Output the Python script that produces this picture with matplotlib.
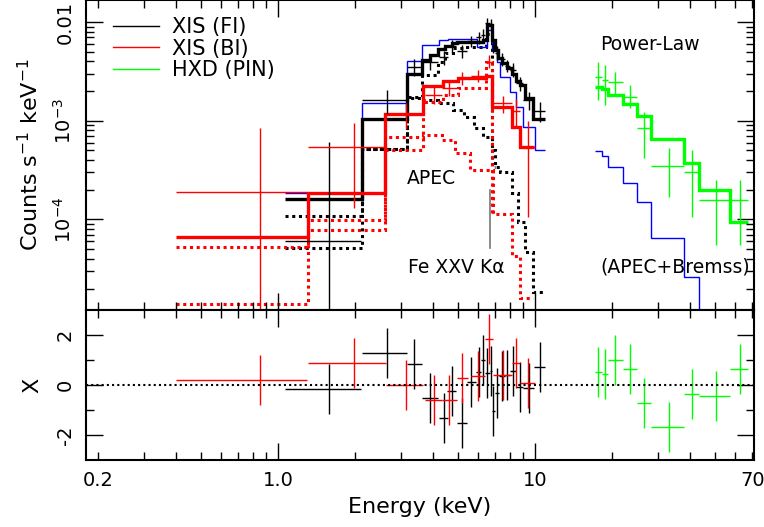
import numpy as np
import matplotlib.pyplot as plt
from matplotlib.lines import Line2D
from matplotlib.ticker import FixedLocator, FixedFormatter

# ---- model curves: bin edges (keV) and values (counts/s/keV) ----
fi_edges = [1.06, 2.12, 3.17, 3.62, 3.90, 4.18, 4.45, 4.74, 4.96, 6.27, 6.48, 6.78,
            6.98, 7.19, 7.42, 7.77, 8.14, 8.40, 8.74, 9.14, 9.86, 10.94]
fi_model = [1.61e-4, 1.04e-3, 2.98e-3, 4.14e-3, 4.65e-3, 5.3e-3, 5.76e-3, 6.1e-3,
            6.3e-3, 6.5e-3, 9.35e-3, 6.6e-3, 5.2e-3, 4.3e-3, 3.8e-3, 3.4e-3, 3.0e-3,
            2.5e-3, 2.3e-3, 1.68e-3, 1.04e-3]

bi_edges = [0.40, 1.31, 2.61, 3.68, 4.39, 5.02, 6.45, 6.80, 8.14, 8.74, 9.9]
bi_model = [6.7e-5, 1.87e-4, 1.17e-3, 2.25e-3, 2.55e-3, 2.7e-3, 2.85e-3, 1.39e-3,
            8.6e-4, 5.4e-4]

blue_edges = [1.06, 2.12, 3.17, 3.62, 4.23, 4.58, 5.92, 6.49, 6.77, 7.1, 7.31, 8.0,
              8.4, 8.99, 10.0, 10.94]
blue_vals = [1.87e-4, 1.52e-3, 4.03e-3, 5.82e-3, 6.5e-3, 6.8e-3, 5.6e-3, 8.3e-3,
             5.2e-3, 3.98e-3, 2.8e-3, 1.97e-3, 1.39e-3, 8.7e-4, 5.0e-4]

blue_hxd_edges = [17.1, 18.2, 19.2, 21.9, 25.0, 28.3, 38.1, 43.6, 50.0]
blue_hxd_vals = [4.95e-4, 4.4e-4, 3.42e-4, 2.33e-4, 1.5e-4, 6.5e-5, 2.6e-5, 1e-7]

pin_edges = [17.1, 18.2, 19.2, 21.9, 25.0, 28.3, 38.1, 43.6, 57.4, 67.6]
pin_model = [2.22e-3, 2.1e-3, 1.83e-3, 1.49e-3, 1.12e-3, 6.6e-4, 3.77e-4, 1.99e-4, 9.4e-5]

# dotted model components
fi_c1_edges = [1.06, 2.12, 3.17, 3.62, 4.20, 4.45, 4.80, 5.30, 6.45, 6.80, 6.98]
fi_c1 = [1.09e-4, 5.2e-4, 1.75e-3, 2.93e-3, 3.97e-3, 4.8e-3, 5.4e-3, 5.6e-3, 7.5e-3, 3.4e-4]
fi_c2_edges = [1.06, 2.12, 3.17, 3.62, 4.20, 4.80, 5.30, 5.80, 6.30, 6.80, 6.98, 7.30,
               8.14, 8.60, 9.14, 9.86, 10.94]
fi_c2 = [5.1e-5, 5.2e-4, 1.7e-3, 1.62e-3, 1.5e-3, 1.29e-3, 1.1e-3, 8.4e-4, 6.9e-4,
         5.0e-4, 3.4e-4, 3.0e-4, 1.86e-4, 9.5e-5, 4.7e-5, 1.85e-5]
bi_c1_edges = [0.40, 1.31, 2.61, 3.68, 4.33, 4.88, 5.59, 6.88, 8.14, 8.74, 9.86]
bi_c1 = [5.3e-5, 9.8e-5, 6.9e-4, 7.2e-4, 6.4e-4, 4.7e-4, 3.2e-4, 1.15e-4, 4.3e-5, 1.59e-5]
bi_c2_edges = [0.40, 1.31, 2.61, 3.68, 4.39, 5.02, 6.45, 6.80, 6.88]
bi_c2 = [1.39e-5, 7.9e-5, 5.06e-4, 1.56e-3, 1.83e-3, 2.14e-3, 3.97e-3, 1.15e-4]

# ---- data points ----
fi_lo = [1.06, 2.12, 3.17, 3.62, 4.24, 4.55, 4.95, 5.42, 5.89, 6.17, 6.40, 6.65, 6.77,
         6.98, 7.24, 7.62, 8.0, 8.4, 9.0, 9.9]
fi_hi = [2.10, 3.17, 3.62, 4.20, 4.59, 4.93, 5.42, 5.89, 6.17, 6.40, 6.65, 6.77, 6.98,
         7.24, 7.62, 8.0, 8.4, 9.0, 9.9, 10.96]
fi_rate = [6.1e-5, 1.62e-3, 3.54e-3, 3.95e-3, 4.4e-3, 5.75e-3, 5.1e-3, 6.4e-3, 7.0e-3,
           7.4e-3, 9.8e-3, 9.5e-3, 5.7e-3, 4.9e-3, 4.2e-3, 3.6e-3, 3.3e-3, 2.4e-3,
           1.62e-3, 1.26e-3]
fi_up = [6.14e-4, 2.07e-3, 4.2e-3, 4.65e-3, 5.1e-3, 6.5e-3, 5.9e-3, 7.2e-3, 8.0e-3,
         8.5e-3, 1.1e-2, 1.07e-2, 6.6e-3, 5.7e-3, 4.8e-3, 4.1e-3, 3.8e-3, 2.8e-3,
         1.97e-3, 1.56e-3]
fi_down = [1e-6, 1.17e-3, 2.87e-3, 3.25e-3, 3.7e-3, 5.0e-3, 4.3e-3, 5.6e-3, 6.0e-3,
           6.3e-3, 8.6e-3, 8.3e-3, 4.8e-3, 4.1e-3, 3.6e-3, 3.1e-3, 2.8e-3, 2.0e-3,
           1.27e-3, 0.96e-3]
fi_chi = [-0.17, 1.29, 0.84, -0.53, -1.33, -0.23, -1.51, 0.11, 0.51, 1.0, 0.47, 0.56,
          -1.03, -0.33, 0.36, 0.4, 0.57, -0.09, -0.1, 0.73]

bi_lo = [0.40, 1.31, 2.63, 3.73, 4.33, 4.97, 5.61, 6.40, 6.88, 8.14, 8.74]
bi_hi = [1.30, 2.63, 3.68, 4.33, 4.96, 5.47, 6.40, 6.87, 8.14, 8.74, 10.0]
bi_rate = [1.9e-4, 5.39e-4, 1.17e-3, 1.83e-3, 2.14e-3, 2.7e-3, 2.85e-3, 3.98e-3,
           1.5e-3, 1.25e-3, 5.46e-4]
bi_up = [8.5e-4, 9.44e-4, 1.52e-3, 2.18e-3, 2.5e-3, 3.1e-3, 3.25e-3, 4.6e-3, 1.8e-3,
         1.65e-3, 1.0e-3]
bi_down = [1e-6, 1.30e-4, 0.82e-3, 1.48e-3, 1.8e-3, 2.3e-3, 2.45e-3, 3.4e-3, 1.2e-3,
           0.85e-3, 1.07e-4]
bi_chi = [0.2, 0.89, 0.0, -0.6, -0.6, 0.29, 0.37, 1.83, 0.4, 0.89, 0.07]

pin_lo = [17.1, 18.2, 19.2, 21.9, 25.0, 28.3, 38.1, 43.6, 57.4]
pin_hi = [18.2, 19.2, 21.9, 25.0, 28.3, 38.1, 43.6, 57.4, 67.6]
pin_rate = [2.80e-3, 2.59e-3, 2.49e-3, 1.75e-3, 8.4e-4, 3.51e-4, 3.05e-4, 1.58e-4, 1.58e-4]
pin_up = [3.97e-3, 3.67e-3, 3.14e-3, 2.31e-3, 1.24e-3, 5.26e-4, 5.06e-4, 2.51e-4, 2.51e-4]
pin_down = [1.62e-3, 1.45e-3, 1.83e-3, 1.34e-3, 4.17e-4, 1.70e-4, 1.07e-4, 5.52e-5, 5.52e-5]
pin_chi = [0.51, 0.44, 1.0, 0.64, -0.72, -1.67, -0.37, -0.44, 0.64]

fe_line_E = 6.65
fe_line_range = [5.1e-5, 1.99e-4]

GREEN = '#00ff00'

fig = plt.figure(figsize=(7.64, 5.27), dpi=100)
ax = fig.add_axes([86/764, (527-310)/527, (754-86)/764, 310/527])
ax2 = fig.add_axes([86/764, (527-460)/527, (754-86)/764, 150/527])


def draw_points(a, lo, hi, y, ydown, yup, color):
    lo = np.array(lo); hi = np.array(hi); y = np.array(y)
    xc = (lo + hi) / 2
    a.errorbar(xc, y, xerr=[xc - lo, hi - xc],
               yerr=[y - np.array(ydown), np.array(yup) - y],
               fmt='none', ecolor=color, elinewidth=1.0, capsize=0)


# models
ax.stairs(fi_c1, fi_c1_edges, baseline=None, color='black', lw=2.2, ls=(0, (1, 1.2)))
ax.stairs(fi_c2, fi_c2_edges, baseline=None, color='black', lw=2.2, ls=(0, (1, 1.2)))
ax.stairs(bi_c1, bi_c1_edges, baseline=None, color='red', lw=2.2, ls=(0, (1, 1.2)))
ax.stairs(bi_c2, bi_c2_edges, baseline=None, color='red', lw=2.2, ls=(0, (1, 1.2)))
ax.stairs(blue_vals, blue_edges, baseline=None, color='blue', lw=1.0)
ax.stairs(blue_hxd_vals, blue_hxd_edges, baseline=None, color='blue', lw=1.0)
ax.stairs(fi_model, fi_edges, baseline=None, color='black', lw=2.4)
ax.stairs(bi_model, bi_edges, baseline=None, color='red', lw=2.4)
ax.stairs(pin_model, pin_edges, baseline=None, color=GREEN, lw=2.4)

# data
draw_points(ax, fi_lo, fi_hi, fi_rate, fi_down, fi_up, 'black')
draw_points(ax, bi_lo, bi_hi, bi_rate, bi_down, bi_up, 'red')
draw_points(ax, pin_lo, pin_hi, pin_rate, pin_down, pin_up, GREEN)

ax.plot([fe_line_E, fe_line_E], fe_line_range, color='#777777', lw=1.2)

ax.text(3.18, 2.63e-4, 'APEC', fontsize=13.5, ha='left', va='center')
ax.text(3.2, 3.3e-5, 'Fe XXV K\u03b1', fontsize=13.5, ha='left', va='center')
ax.text(17.9, 5.85e-3, 'Power-Law', fontsize=13.5, ha='left', va='center')
ax.text(17.9, 3.3e-5, '(APEC+Bremss)', fontsize=13.5, ha='left', va='center')

handles = [Line2D([], [], color='black', lw=1.0),
           Line2D([], [], color='red', lw=1.0),
           Line2D([], [], color=GREEN, lw=1.0)]
ax.legend(handles, ['XIS (FI)', 'XIS (BI)', 'HXD (PIN)'], loc='upper left',
          bbox_to_anchor=(27/668, 1 - 17/310), frameon=False, fontsize=15,
          handlelength=2.2, handletextpad=0.65, labelspacing=0.08,
          borderpad=0, borderaxespad=0)

# residuals
def draw_resid(a, lo, hi, chi, color):
    lo = np.array(lo); hi = np.array(hi)
    xc = (lo + hi) / 2
    a.errorbar(xc, chi, xerr=[xc - lo, hi - xc], yerr=1.0, fmt='none',
               ecolor=color, elinewidth=1.0, capsize=0)


draw_resid(ax2, fi_lo, fi_hi, fi_chi, 'black')
draw_resid(ax2, bi_lo, bi_hi, bi_chi, 'red')
draw_resid(ax2, pin_lo, pin_hi, pin_chi, GREEN)
ax2.axhline(0, color='black', lw=1.5, ls=(0, (1, 1.5)))

# axes setup
for a in (ax, ax2):
    a.set_xscale('log')
    a.set_xlim(0.179, 71.1)
    a.tick_params(which='both', direction='in', top=True, right=True, width=1.0)
    a.tick_params(which='major', length=12)
    a.tick_params(which='minor', length=6)
    for s in a.spines.values():
        s.set_linewidth(1.5)
    a.xaxis.set_major_locator(FixedLocator([1, 10]))
    minors = [0.2, 0.3, 0.4, 0.5, 0.6, 0.7, 0.8, 0.9, 2, 3, 4, 5, 6, 7, 8, 9,
              20, 30, 40, 50, 60, 70]
    a.xaxis.set_minor_locator(FixedLocator(minors))

ax.set_yscale('log')
ax.set_ylim(1.212e-5, 0.0167)
ax.yaxis.set_major_locator(FixedLocator([1e-4, 1e-3, 1e-2]))
ax.yaxis.set_major_formatter(FixedFormatter([r'$10^{-4}$', r'$10^{-3}$', '0.01']))
ax.yaxis.set_minor_locator(FixedLocator(
    [m * 10.0**e for e in (-5, -4, -3, -2) for m in range(2, 10)]))
ax.yaxis.set_minor_formatter(FixedFormatter([]))
ax.tick_params(axis='x', labelbottom=False)
ax.tick_params(axis='y', labelsize=14, labelrotation=90, pad=8)
for lab in ax.get_yticklabels():
    lab.set_va('center')
ax.set_ylabel('Counts s$^{-1}$ keV$^{-1}$', fontsize=16, labelpad=8)

ax2.set_ylim(-3, 3)
ax2.yaxis.set_major_locator(FixedLocator([-2, 0, 2]))
ax2.yaxis.set_major_formatter(FixedFormatter(['-2', '0', '2']))
ax2.yaxis.set_minor_locator(FixedLocator([-1, 1]))
ax2.tick_params(axis='y', labelsize=14, labelrotation=90, pad=8)
for lab in ax2.get_yticklabels():
    lab.set_va('center')
ax2.xaxis.set_major_formatter(FixedFormatter(['1.0', '10']))
ax2.xaxis.set_minor_formatter(FixedFormatter(
    ['0.2'] + [''] * 20 + ['70']))
ax2.tick_params(axis='x', which='both', labelsize=14, pad=8)
ax2.set_xlabel('Energy (keV)', fontsize=16, labelpad=5)
ax2.set_ylabel('X', fontsize=16, labelpad=10)

fig.savefig('out.png', dpi=100)
